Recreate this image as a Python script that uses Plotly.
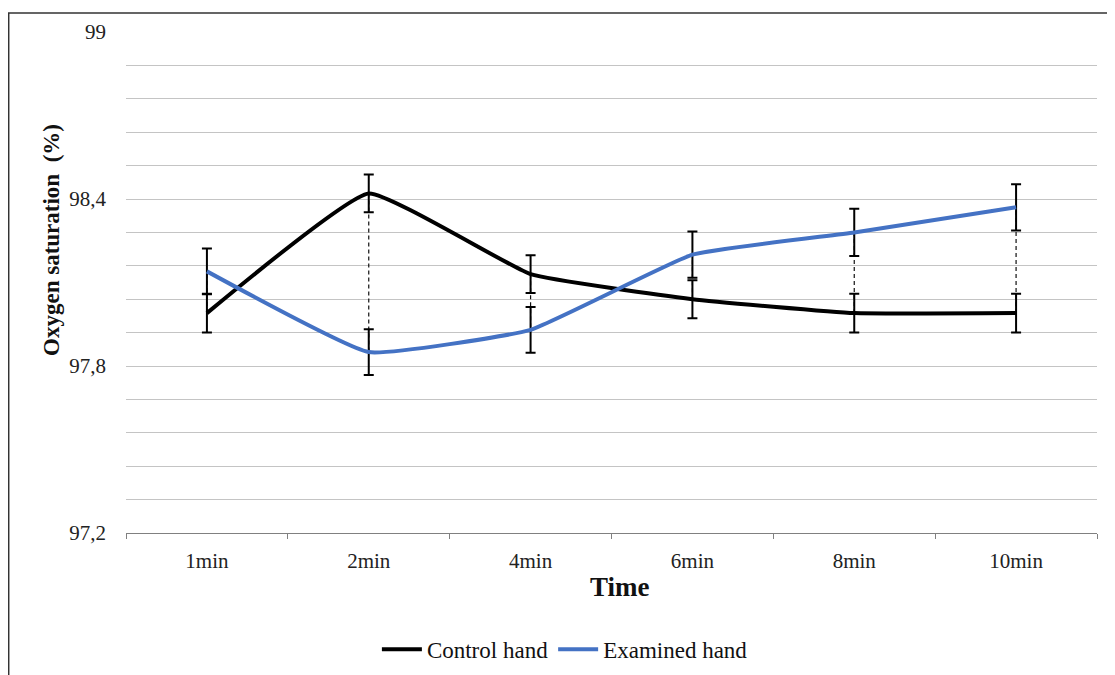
import plotly.graph_objects as go

categories = ["1min", "2min", "4min", "6min", "8min", "10min"]
control = [97.99, 98.42, 98.13, 98.04, 97.99, 97.99]
examined = [98.14, 97.85, 97.93, 98.20, 98.28, 98.37]
control_err = [0.07, 0.068, 0.068, 0.068, 0.07, 0.07]
examined_err = [0.082, 0.082, 0.082, 0.083, 0.085, 0.083]
y_tickvals = [97.2, 97.32, 97.44, 97.56, 97.68, 97.8, 97.92, 98.04, 98.16,
              98.28, 98.4, 98.52, 98.64, 98.76, 98.88, 99.0]
y_ticktext = ["97,2", "", "", "", "", "97,8", "", "", "", "", "98,4",
              "", "", "", "", "99"]

FONT = "Liberation Serif"

# high-low (dashed) lines between the two series
hl_x, hl_y = [], []
for c, a, b in zip(categories, control, examined):
    hl_x += [c, c, None]
    hl_y += [a, b, None]

fig = go.Figure()
fig.add_trace(go.Scatter(
    x=hl_x, y=hl_y, mode="lines", showlegend=False, hoverinfo="skip",
    line=dict(color="#111111", width=1.2, dash="4px,3px")))
fig.add_trace(go.Scatter(
    x=categories, y=control, name="Control hand", mode="lines",
    line=dict(color="#000000", width=4, shape="spline", smoothing=0.35),
    error_y=dict(type="data", array=control_err, visible=True,
                 color="#000000", thickness=2, width=5)))
fig.add_trace(go.Scatter(
    x=categories, y=examined, name="Examined hand", mode="lines",
    line=dict(color="#4472C4", width=4, shape="spline", smoothing=0.35),
    error_y=dict(type="data", array=examined_err, visible=True,
                 color="#000000", thickness=2, width=5)))

fig.update_layout(
    width=1107, height=675,
    margin=dict(l=118, r=18, t=20, b=150),
    paper_bgcolor="white", plot_bgcolor="white",
    font=dict(family=FONT, size=21, color="#222222"),
    showlegend=True,
    legend=dict(orientation="h", x=0.452, xanchor="center",
                y=-0.232, yanchor="middle",
                font=dict(family=FONT, size=23, color="#111111"),
                bgcolor="rgba(0,0,0,0)", itemwidth=40, tracegroupgap=0),
    xaxis=dict(type="category", showgrid=False, showline=True,
               linecolor="#808080", linewidth=1.2,
               ticks="outside", tickson="boundaries", ticklen=5,
               tickcolor="#808080", tickwidth=1, ticklabelstandoff=9,
               tickfont=dict(family=FONT, size=21, color="#222222"),
               range=[-0.5, 5.5]),
    yaxis=dict(range=[97.2, 99.0], tickvals=y_tickvals, ticktext=y_ticktext,
               showgrid=True, gridcolor="#c4c4c4", gridwidth=1.3,
               showline=False, zeroline=False, ticks="",
               ticklabelstandoff=19,
               tickfont=dict(family=FONT, size=21, color="#222222")),
    annotations=[
        dict(text="Time", xref="paper", yref="paper", x=0.509, y=-0.107,
             xanchor="center", yanchor="middle", showarrow=False,
             font=dict(family=FONT, size=27, color="#111111", weight="bold")),
        dict(text="Oxygen saturation\u00a0\u00a0(%)", xref="paper", yref="paper",
             x=-0.0762, y=0.585, textangle=-90, xanchor="center",
             yanchor="middle", showarrow=False,
             font=dict(family=FONT, size=23, color="#111111", weight="bold")),
    ],
    shapes=[
        dict(type="rect", xref="paper", yref="paper",
             x0=-0.1208, x1=1.0165, y0=-0.35, y1=1.0381,
             line=dict(color="#333333", width=1.5), layer="below"),
    ],
)

fig.write_html("out.html")
